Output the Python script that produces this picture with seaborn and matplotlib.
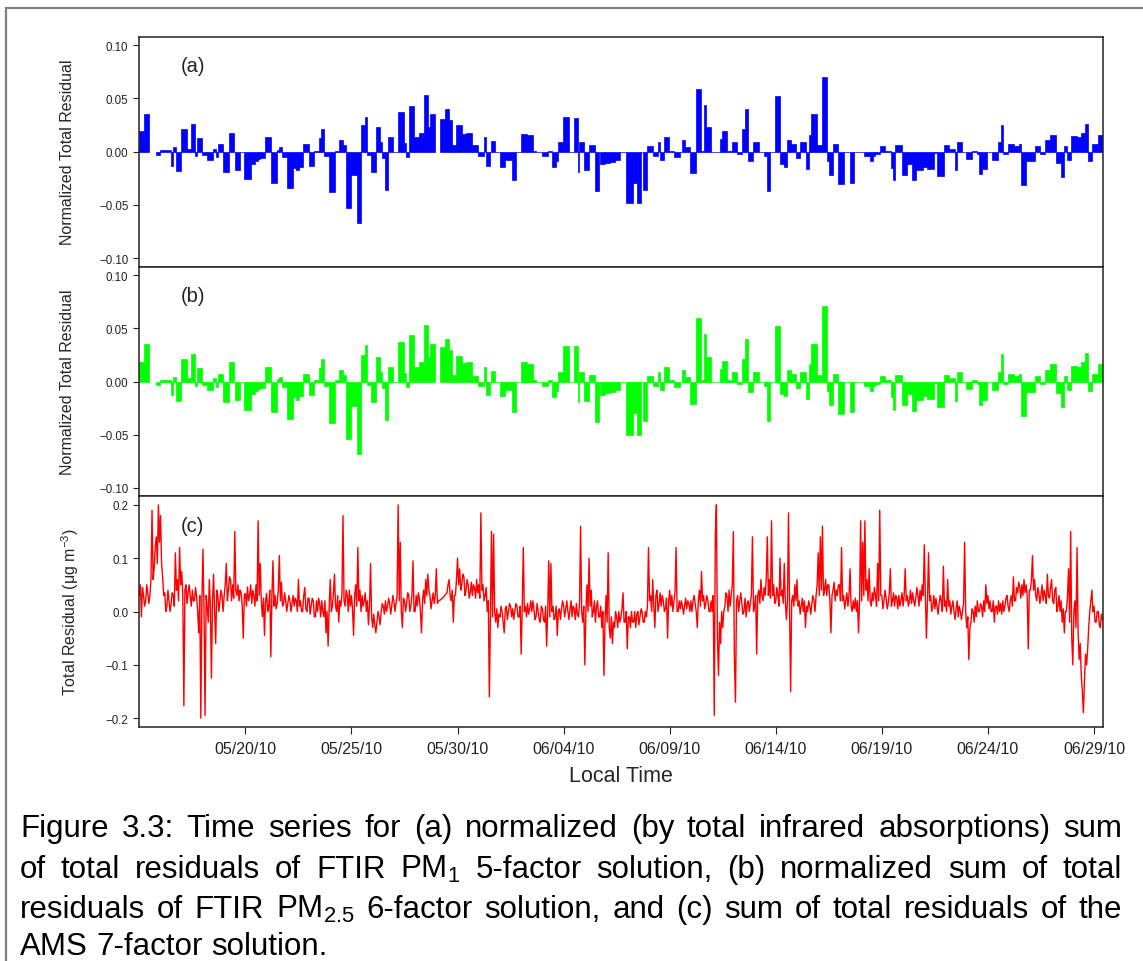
import numpy as np
import pandas as pd
import matplotlib
matplotlib.use("Agg")
import matplotlib.pyplot as plt
import matplotlib.dates as mdates
from matplotlib.ticker import FixedLocator
from matplotlib.patches import Rectangle
import seaborn as sns

# ---------------- data ----------------
start_date = "2010-05-15 00:00"
end_date = "2010-06-29 10:30"

# FTIR filter sample start times (days after 05/15/10 00:00); last sample ends at ftir_end_day
ftir_start_days = [
    0.00, 0.22, 0.47, 0.79, 0.97, 1.48, 1.60, 1.73, 1.95, 2.26, 2.45, 2.61, 2.74, 2.96, 3.21,
    3.49, 3.62, 3.73, 3.93, 4.25, 4.47, 4.53, 4.75, 4.95, 5.25, 5.47, 5.58, 5.69, 5.94, 6.23,
    6.48, 6.60, 6.73, 6.95, 7.26, 7.39, 7.55, 7.70, 7.99, 8.24, 8.46, 8.58, 8.71, 8.93, 9.21,
    9.43, 9.59, 9.72, 9.97, 10.28, 10.44, 10.63, 10.72, 10.94, 11.16, 11.35, 11.45, 11.60, 11.70, 11.98,
    12.18, 12.48, 12.58, 12.69, 12.97, 13.19, 13.43, 13.60, 13.68, 13.96, 14.18, 14.42, 14.61, 14.73, 14.94,
    15.20, 15.41, 15.68, 15.96, 16.26, 16.35, 16.51, 16.60, 16.78, 16.98, 17.25, 17.56, 17.77, 17.99, 18.27,
    18.55, 18.71, 18.98, 19.25, 19.47, 19.64, 19.73, 19.97, 20.25, 20.47, 20.68, 20.74, 20.96, 21.21, 21.46,
    21.65, 21.73, 21.97, 22.20, 22.44, 22.64, 22.94, 23.25, 23.46, 23.65, 23.73, 23.93, 24.21, 24.45, 24.56,
    24.72, 24.97, 25.19, 25.50, 25.58, 25.74, 25.94, 26.23, 26.49, 26.60, 26.73, 26.95, 27.39, 27.47, 27.70,
    27.94, 28.18, 28.41, 28.57, 28.69, 28.93, 29.21, 29.43, 29.59, 29.72, 29.94, 30.19, 30.41, 30.53, 30.74,
    30.93, 31.16, 31.43, 31.56, 31.67, 31.95, 32.16, 32.42, 32.53, 32.70, 32.92, 33.21, 33.52, 33.71, 34.15,
    34.43, 34.56, 34.70, 34.91, 35.17, 35.41, 35.53, 35.64, 35.96, 36.19, 36.40, 36.59, 36.95, 37.14, 37.45,
    37.61, 37.92, 38.18, 38.43, 38.55, 38.76, 38.95, 39.26, 39.50, 39.58, 39.73, 39.97, 40.20, 40.47, 40.60,
    40.72, 40.94, 41.23, 41.47, 41.58, 41.78, 42.20, 42.45, 42.69, 42.92, 43.19, 43.43, 43.58, 43.71, 43.93,
    44.21, 44.40, 44.56, 44.73, 44.91, 45.18,
]
ftir_end_day = 45.43

pm1_residual = [
    0.019, 0.035, np.nan, -0.003, 0.0015, -0.013, 0.004, -0.018, 0.021, 0.003, 0.026, -0.004, 0.013, -0.003, -0.008,
    0.003, -0.005, 0.007, -0.019, 0.018, 0.0, -0.017, 0.0, -0.026, -0.012, -0.009, -0.007, -0.006, 0.014, -0.029,
    0.002, 0.004, -0.005, -0.034, -0.015, -0.017, -0.014, 0.007, -0.013, 0.001, 0.013, 0.021, -0.004, -0.038, 0.001,
    0.011, 0.006, -0.053, -0.022, -0.067, 0.025, 0.033, -0.003, -0.019, 0.023, 0.009, -0.006, -0.036, 0.014, 0.0,
    0.037, 0.008, -0.005, 0.043, 0.014, 0.018, 0.053, 0.023, 0.035, np.nan, 0.031, 0.040, 0.030, 0.006, 0.025,
    0.017, 0.018, 0.006, -0.004, 0.014, -0.013, 0.0, 0.010, 0.0, -0.014, -0.008, -0.027, 0.0, 0.017, 0.016,
    0.001, 0.0, -0.004, 0.001, -0.014, -0.009, 0.009, 0.033, 0.0, 0.032, -0.019, 0.009, -0.017, 0.006, -0.037,
    0.0, -0.012, -0.011, -0.010, -0.008, 0.0, -0.048, -0.029, -0.048, 0.0, -0.036, 0.005, -0.004, 0.009, -0.008,
    0.014, 0.001, -0.005, 0.0, 0.011, 0.004, -0.020, 0.059, 0.001, 0.044, 0.023, 0.0, 0.012, 0.019, 0.001,
    0.009, -0.002, 0.021, 0.040, -0.009, 0.009, 0.0, -0.004, -0.037, 0.0, 0.052, -0.012, -0.014, 0.011, 0.007,
    -0.006, 0.009, -0.016, 0.016, 0.035, 0.006, 0.070, -0.009, -0.022, 0.007, -0.030, 0.0, -0.029, 0.0, -0.004,
    -0.009, -0.004, -0.002, 0.005, 0.001, -0.015, -0.027, 0.006, -0.022, -0.012, -0.027, -0.017, -0.014, -0.016, -0.001,
    -0.023, 0.006, 0.003, -0.017, 0.009, 0.0, -0.007, 0.001, -0.002, -0.021, -0.016, 0.0, -0.008, 0.009, 0.025,
    -0.002, 0.007, 0.005, 0.007, -0.031, -0.009, 0.005, -0.002, 0.011, 0.016, -0.011, -0.024, 0.005, -0.008, 0.015,
    0.014, 0.018, 0.026, -0.009, 0.007, 0.016,
]

pm25_residual = [
    0.018, 0.035, np.nan, -0.003, 0.0015, -0.013, 0.004, -0.018, 0.021, 0.003, 0.026, -0.004, 0.013, -0.003, -0.008,
    0.003, -0.005, 0.007, -0.019, 0.018, 0.0, -0.017, 0.0, -0.027, -0.012, -0.009, -0.007, -0.006, 0.014, -0.029,
    0.002, 0.004, -0.005, -0.035, -0.015, -0.017, -0.014, 0.007, -0.013, 0.001, 0.013, 0.021, -0.004, -0.039, 0.001,
    0.011, 0.006, -0.054, -0.023, -0.068, 0.025, 0.034, -0.003, -0.019, 0.023, 0.009, -0.006, -0.036, 0.014, 0.0,
    0.037, 0.008, -0.005, 0.044, 0.014, 0.018, 0.053, 0.023, 0.035, np.nan, 0.032, 0.040, 0.030, 0.006, 0.024,
    0.017, 0.018, 0.005, -0.004, 0.014, -0.013, 0.0, 0.010, 0.0, -0.014, -0.008, -0.029, 0.0, 0.018, 0.016,
    0.001, 0.0, -0.004, 0.001, -0.015, -0.009, 0.009, 0.033, 0.0, 0.033, -0.019, 0.009, -0.018, 0.006, -0.038,
    0.0, -0.013, -0.011, -0.010, -0.008, 0.0, -0.050, -0.030, -0.050, 0.0, -0.037, 0.005, -0.004, 0.009, -0.008,
    0.014, 0.001, -0.005, 0.0, 0.011, 0.004, -0.021, 0.060, 0.001, 0.045, 0.023, 0.0, 0.012, 0.019, 0.001,
    0.009, -0.002, 0.021, 0.040, -0.010, 0.009, 0.0, -0.004, -0.037, 0.0, 0.052, -0.012, -0.014, 0.011, 0.007,
    -0.006, 0.009, -0.016, 0.016, 0.035, 0.006, 0.071, -0.009, -0.022, 0.007, -0.031, 0.0, -0.029, 0.0, -0.004,
    -0.009, -0.004, -0.002, 0.005, 0.001, -0.015, -0.027, 0.006, -0.022, -0.012, -0.028, -0.017, -0.014, -0.016, -0.001,
    -0.024, 0.006, 0.003, -0.018, 0.009, 0.0, -0.007, 0.001, -0.002, -0.022, -0.017, 0.0, -0.008, 0.009, 0.026,
    -0.002, 0.007, 0.005, 0.007, -0.032, -0.010, 0.005, -0.002, 0.011, 0.016, -0.011, -0.024, 0.005, -0.008, 0.015,
    0.014, 0.018, 0.027, -0.009, 0.007, 0.016,
]

# AMS total residual (ug m-3), one row per day starting 05/15/10, sampled every 0.05 day
ams_residual_by_day = [
    [0.03, 0.05, -0.01, 0.045, 0.03, 0.01, 0.02, 0.05, 0.035, 0.015, 0.03, 0.06, 0.19, 0.06, 0.08, 0.12, 0.14, 0.09, 0.20, 0.13],
    [0.18, 0.09, 0.065, 0.03, 0.035, 0.0, 0.01, 0.04, 0.02, 0.0, 0.015, 0.035, 0.03, 0.01, 0.11, 0.04, 0.06, 0.02, 0.12, 0.05],
    [0.075, 0.03, -0.177, 0.04, 0.05, 0.015, 0.034, 0.05, 0.028, 0.01, 0.04, 0.02, 0.02, 0.045, 0.028, 0.0, -0.04, 0.03, -0.20, 0.02],
    [0.117, 0.0, -0.195, 0.03, 0.01, -0.02, 0.06, 0.01, -0.125, 0.02, 0.07, 0.0, -0.06, 0.04, 0.03, 0.0, 0.02, 0.04, 0.03, 0.0],
    [0.03, 0.05, 0.09, 0.02, 0.04, 0.065, 0.06, 0.02, 0.05, 0.025, 0.15, 0.04, 0.03, 0.05, 0.02, 0.04, 0.035, 0.01, -0.05, 0.03],
    [0.034, 0.01, 0.046, 0.02, 0.03, 0.05, 0.015, 0.04, 0.03, 0.01, 0.05, 0.02, 0.17, 0.03, 0.09, 0.02, -0.01, 0.025, -0.045, 0.02],
    [0.034, 0.0, 0.01, 0.04, -0.085, 0.03, 0.095, 0.01, 0.03, 0.005, 0.015, 0.04, 0.105, 0.02, 0.055, 0.01, 0.015, 0.035, 0.02, 0.0],
    [0.015, 0.03, 0.02, 0.0, 0.015, 0.03, 0.01, 0.025, 0.02, 0.0, 0.06, 0.01, 0.02, 0.0, 0.0, 0.03, 0.045, 0.005, 0.0, 0.025],
    [0.025, -0.005, 0.01, 0.025, 0.02, -0.01, -0.01, 0.02, 0.0, 0.025, 0.015, -0.01, 0.02, 0.0, -0.01, 0.02, -0.04, 0.0, -0.065, 0.01],
    [0.06, 0.0, 0.01, 0.035, 0.07, 0.01, 0.0, 0.03, -0.02, 0.02, 0.01, 0.03, 0.18, 0.02, 0.01, 0.04, 0.03, 0.0, 0.04, 0.01],
    [0.03, 0.005, -0.045, 0.03, 0.05, 0.01, 0.12, 0.02, 0.04, 0.0, 0.03, 0.01, 0.02, 0.035, 0.0, 0.02, -0.025, 0.01, 0.09, -0.01],
    [-0.03, -0.005, -0.025, -0.04, -0.02, 0.0, -0.01, -0.025, 0.0, 0.015, 0.01, -0.005, 0.02, 0.0, 0.01, 0.025, 0.015, -0.005, 0.01, 0.03],
    [0.02, 0.0, 0.015, 0.03, 0.2, 0.02, 0.13, 0.0, -0.03, 0.025, 0.02, 0.0, 0.015, 0.035, 0.03, 0.0, 0.01, 0.03, 0.095, 0.0],
    [0.0, 0.03, 0.01, 0.035, 0.025, 0.0, -0.04, 0.02, 0.04, 0.015, 0.06, 0.03, 0.07, 0.04, 0.03, 0.005, 0.02, 0.035, 0.015, 0.03],
    [0.08, 0.015, 0.02, 0.021, 0.022, 0.024, 0.025, 0.028, 0.03, 0.033, 0.035, 0.05, 0.06, 0.03, 0.02, 0.04, -0.02, 0.03, 0.03, 0.06],
    [0.1, 0.05, 0.08, 0.04, 0.05, 0.07, 0.065, 0.03, 0.04, 0.06, 0.05, 0.025, 0.035, 0.055, 0.03, 0.05, 0.045, 0.025, 0.06, 0.035],
    [0.05, 0.025, 0.185, 0.04, 0.05, 0.02, 0.03, 0.045, 0.0, 0.02, -0.16, 0.0, 0.15, -0.01, 0.145, 0.0, -0.02, 0.005, -0.03, -0.005],
    [-0.01, 0.01, 0.0, -0.02, -0.04, 0.005, 0.01, -0.015, 0.0, 0.015, 0.01, -0.01, 0.005, -0.015, 0.0, 0.015, 0.01, -0.01, -0.01, 0.01],
    [-0.08, 0.01, 0.12, 0.0, 0.01, -0.01, 0.015, -0.005, 0.005, 0.02, 0.0, 0.02, 0.005, -0.015, -0.01, 0.015, 0.0, -0.015, -0.02, 0.01],
    [0.005, -0.015, -0.02, 0.01, -0.065, 0.0, 0.095, -0.01, 0.09, 0.0, 0.01, -0.015, -0.01, 0.01, -0.045, 0.0, 0.005, -0.015, 0.005, 0.02],
    [0.01, -0.01, 0.005, 0.02, 0.0, -0.015, 0.005, 0.02, -0.01, 0.01, 0.005, -0.015, 0.015, -0.005, -0.01, 0.015, 0.16, 0.0, -0.02, 0.01],
    [-0.1, 0.0, 0.05, 0.0, 0.1, 0.01, 0.04, -0.01, 0.0, 0.02, -0.02, 0.01, 0.02, -0.01, -0.01, 0.01, -0.03, 0.0, -0.12, -0.02],
    [0.03, -0.02, 0.11, -0.03, -0.05, -0.01, -0.06, -0.02, -0.03, 0.0, -0.01, -0.03, 0.0, -0.02, -0.01, 0.005, 0.035, -0.02, -0.02, 0.0],
    [-0.07, -0.01, -0.01, -0.03, 0.0, -0.02, -0.02, 0.0, -0.03, -0.005, 0.0, -0.025, -0.01, 0.005, 0.0, -0.02, -0.02, 0.0, -0.01, 0.01],
    [0.12, 0.02, 0.03, 0.0, 0.06, 0.01, -0.03, 0.03, 0.04, 0.0, 0.015, 0.035, 0.01, 0.03, 0.02, 0.0, 0.005, 0.025, -0.05, 0.02],
    [0.04, 0.01, 0.03, 0.0, 0.02, 0.035, 0.12, 0.0, 0.0, 0.02, 0.005, 0.02, 0.01, -0.005, 0.01, 0.025, 0.005, 0.02, 0.015, 0.0],
    [0.02, 0.0, 0.02, 0.03, 0.015, 0.0, -0.03, 0.02, 0.04, 0.01, 0.075, 0.02, 0.03, 0.005, 0.015, 0.03, 0.02, 0.0, 0.0, 0.02],
    [0.0, 0.03, -0.195, 0.14, 0.2, -0.05, -0.12, -0.02, -0.06, 0.0, -0.03, 0.0, 0.01, 0.035, 0.03, 0.0, 0.04, 0.01, 0.03, 0.05],
    [0.15, -0.09, -0.17, 0.02, 0.03, 0.0, 0.02, 0.035, 0.015, -0.005, 0.0, 0.025, -0.01, 0.015, 0.02, 0.0, 0.015, 0.03, 0.14, 0.0],
    [0.01, 0.03, -0.08, 0.03, 0.04, 0.015, 0.06, 0.03, 0.02, 0.045, 0.03, 0.06, 0.14, 0.03, 0.06, 0.025, 0.17, 0.03, 0.05, 0.015],
    [0.02, 0.045, 0.03, 0.01, 0.1, 0.03, 0.04, 0.015, 0.09, 0.02, -0.015, 0.02, 0.185, 0.0, -0.15, 0.02, 0.03, 0.01, 0.05, 0.02],
    [0.06, 0.01, 0.02, -0.005, 0.01, 0.025, 0.0, 0.02, -0.03, 0.01, 0.0, 0.02, 0.01, -0.005, 0.015, 0.03, 0.02, 0.0, 0.03, 0.05],
    [0.11, 0.03, 0.14, 0.04, 0.16, 0.03, 0.04, 0.06, 0.03, 0.05, 0.05, 0.02, -0.04, 0.03, 0.04, 0.055, 0.02, 0.04, 0.03, 0.05],
    [0.05, 0.02, 0.12, 0.02, 0.03, 0.005, 0.02, 0.035, 0.01, 0.03, 0.08, 0.01, 0.0, 0.02, 0.005, 0.025, 0.0, 0.02, -0.04, 0.02],
    [0.17, 0.02, 0.13, 0.03, 0.17, 0.04, 0.06, 0.02, 0.08, 0.02, 0.01, 0.035, 0.02, 0.045, 0.03, 0.01, 0.09, 0.02, 0.19, 0.03],
    [0.03, 0.005, 0.02, 0.04, 0.025, 0.005, 0.015, 0.035, 0.08, 0.01, 0.02, 0.035, 0.01, 0.03, 0.025, 0.005, 0.03, 0.01, 0.02, 0.035],
    [0.01, 0.03, 0.08, 0.02, 0.03, 0.01, 0.02, 0.04, 0.015, 0.035, 0.02, 0.01, 0.025, 0.045, 0.03, 0.01, 0.04, 0.02, 0.05, 0.03],
    [0.125, 0.03, -0.05, 0.02, 0.11, 0.02, 0.03, 0.0, 0.01, 0.03, 0.005, 0.025, 0.01, -0.005, 0.015, 0.03, 0.02, 0.0, 0.085, 0.01],
    [0.02, 0.0, 0.06, 0.01, 0.02, -0.005, 0.01, 0.02, 0.0, -0.015, 0.005, 0.02, -0.01, 0.01, 0.0, -0.015, 0.0, 0.015, 0.13, 0.0],
    [-0.03, -0.01, -0.09, -0.03, -0.02, 0.005, 0.0, -0.02, 0.01, -0.01, 0.02, 0.0, 0.0, 0.015, 0.01, -0.01, 0.02, 0.0, 0.05, 0.015],
    [0.03, 0.005, 0.02, 0.0, 0.0, 0.02, -0.02, 0.01, 0.01, -0.005, 0.02, 0.0, 0.015, -0.005, 0.02, 0.0, 0.01, 0.025, 0.03, 0.01],
    [0.0, 0.02, 0.03, 0.01, 0.065, 0.02, 0.02, 0.045, 0.035, 0.055, 0.045, 0.025, 0.05, 0.03, 0.06, 0.035, 0.05, 0.03, -0.07, 0.04],
    [0.04, 0.06, 0.105, 0.04, 0.06, 0.03, 0.02, 0.045, 0.035, 0.015, 0.03, 0.05, 0.02, 0.04, 0.03, 0.015, 0.07, 0.03, 0.025, 0.045],
    [0.06, 0.02, 0.015, 0.04, 0.045, 0.0, 0.01, 0.03, 0.0, 0.02, -0.02, 0.005, -0.04, 0.0, 0.0, 0.03, 0.08, -0.02, 0.15, -0.05],
    [-0.1, 0.0, 0.02, -0.03, 0.12, -0.04, -0.09, -0.06, -0.12, -0.15, -0.19, -0.13, -0.08, -0.1, -0.07, -0.03, 0.0, 0.02, 0.04, 0.0],
    [0.01, -0.02, -0.02, 0.0, 0.0, -0.025, -0.03, -0.005, -0.015],
]
ams_step_days = 0.05

tick_dates = ["2010-05-20", "2010-05-25", "2010-05-30", "2010-06-04", "2010-06-09",
              "2010-06-14", "2010-06-19", "2010-06-24", "2010-06-29"]
ftir_yticks = [-0.10, -0.05, 0.00, 0.05, 0.10]
ams_yticks = [-0.2, -0.1, 0.0, 0.1, 0.2]
panel_labels = ["(a)", "(b)", "(c)"]
ylabel_ftir = "Normalized Total Residual"
ylabel_ams = "Total Residual (\u03bcg m$^{-3}$)"
xlabel = "Local Time"
caption_lines = [
    "Figure 3.3: Time series for (a) normalized (by total infrared absorptions) sum",
    "of total residuals of FTIR PM$_1$ 5-factor solution, (b) normalized sum of total",
    "residuals of FTIR PM$_{2.5}$ 6-factor solution, and (c) sum of total residuals of the",
    "AMS 7-factor solution.",
]

# ---------------- style ----------------
sns.set_theme(style="white")
plt.rcParams["font.family"] = ["Liberation Sans", "DejaVu Sans"]
plt.rcParams["mathtext.fontset"] = "custom"
plt.rcParams["mathtext.rm"] = "Liberation Sans"
plt.rcParams["mathtext.it"] = "Liberation Sans:italic"
plt.rcParams["axes.unicode_minus"] = False

W, H = 1143, 962
fig = plt.figure(figsize=(W / 100, H / 100), dpi=100)
fig.patch.set_facecolor("white")

# outer page frame
fig.add_artist(Rectangle((6 / W, -0.1), 1.2, 1 - 9 / H + 0.1, transform=fig.transFigure,
                         fill=False, edgecolor="#808080", linewidth=1.6))

left = 139.3 / W
width = (1103.3 - 139.3) / W
tops = [37.7, 267.7, 497.3]
bottoms = [267.7, 497.3, 727.7]
axes = [fig.add_axes([left, 1 - b / H, width, (b - t) / H]) for t, b in zip(tops, bottoms)]

t0 = pd.Timestamp(start_date)
x_lo = mdates.date2num(t0)
x_hi = mdates.date2num(pd.Timestamp(end_date))

edges = np.array(ftir_start_days + [ftir_end_day])
bar_x = x_lo + edges[:-1]
bar_w = np.diff(edges)

for ax, vals, col in [(axes[0], pm1_residual, "#0000FF"), (axes[1], pm25_residual, "#00FF00")]:
    v = np.array(vals, dtype=float)
    ok = ~np.isnan(v)
    ax.bar(bar_x[ok], v[ok], width=bar_w[ok], align="edge", color=col,
           edgecolor=col, linewidth=0.5)
    ax.set_ylim(-0.108, 0.108)
    ax.set_yticks(ftir_yticks)
    ax.set_yticklabels([f"{t:.2f}".replace("-", "\u2212") for t in ftir_yticks])
    ax.set_xlim(x_lo, x_hi)
    ax.set_xticks([])
    ax.set_ylabel(ylabel_ftir, fontsize=11.5)
    ax.yaxis.set_label_coords(-0.0747, 0.5)
    ax.yaxis.label.set_va("center")

# AMS series
ams_vals = np.concatenate([np.array(r, dtype=float) for r in ams_residual_by_day])
ams_time = t0 + pd.to_timedelta(np.arange(len(ams_vals)) * ams_step_days, unit="D")
ams_df = pd.DataFrame({"time": ams_time, "residual": ams_vals})
axc = axes[2]
sns.lineplot(data=ams_df, x="time", y="residual", ax=axc, color="#FF0000",
             linewidth=1.0, estimator=None)
axc.set_xlim(pd.Timestamp(start_date), pd.Timestamp(end_date))
axc.set_ylim(-0.216, 0.216)
axc.set_yticks(ams_yticks)
axc.set_yticklabels([f"{t:.1f}".replace("-", "\u2212") for t in ams_yticks])
axc.xaxis.set_major_locator(FixedLocator(mdates.date2num(pd.to_datetime(tick_dates))))
axc.xaxis.set_major_formatter(mdates.DateFormatter("%m/%d/%y"))
axc.set_ylabel(ylabel_ams, fontsize=11.5)
axc.yaxis.set_label_coords(-0.0716, 0.5)
axc.yaxis.label.set_va("center")
axc.set_xlabel(xlabel, fontsize=15.5)
axc.xaxis.label.set_va("center")
axc.xaxis.set_label_coords(0.5, -(777 - 727.7) / 230.4)

for i, ax in enumerate(axes):
    for s in ax.spines.values():
        s.set_visible(True)
        s.set_color("#222222")
        s.set_linewidth(1.1)
    ax.tick_params(axis="y", which="major", direction="out", length=4.3, width=0.8,
                   labelsize=8.3, pad=3.5, left=True, colors="#222222", labelcolor="#222222")
    ax.set_facecolor("white")
    ax.grid(False)
    ax.text(41 / 964, 1 - 29 / 230, panel_labels[i], transform=ax.transAxes,
            ha="left", va="center", fontsize=14.5, color="#222222")
axc.tick_params(axis="x", which="major", direction="out", length=5, width=0.8,
                labelsize=11.5, pad=5, bottom=True, colors="#222222", labelcolor="#222222")

# ---------------- caption (justified) ----------------
fig.canvas.draw()
renderer = fig.canvas.get_renderer()
cap_size = 22.5
caption_family = ["Liberation Sans", "DejaVu Sans"]
x_left_px, x_right_px = 20, 1122
baselines = [837, 878, 918, 955]

def measure(s):
    t = fig.text(0, 0, s, fontsize=cap_size, family=caption_family)
    w = t.get_window_extent(renderer).width
    t.remove()
    return w

space_w = measure("a a") - measure("aa")
for li, (line, yb) in enumerate(zip(caption_lines, baselines)):
    words = line.split(" ")
    texts = [fig.text(0, 1 - yb / H, w, fontsize=cap_size, family=caption_family,
                      ha="left", va="baseline", color="black") for w in words]
    widths = [t.get_window_extent(renderer).width for t in texts]
    justify = li < len(caption_lines) - 1
    gap = (x_right_px - x_left_px - sum(widths)) / (len(words) - 1) if justify else space_w
    x = x_left_px
    for t, w in zip(texts, widths):
        t.set_x(x / W)
        x += w + gap

fig.savefig("out.png", dpi=100)
